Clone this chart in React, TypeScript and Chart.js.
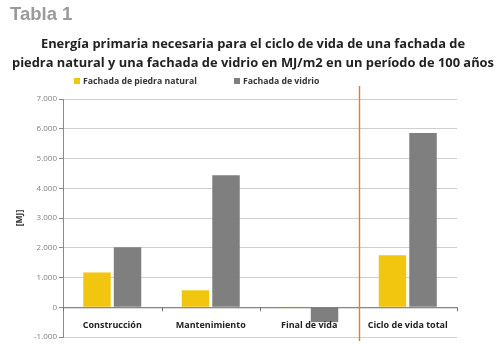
import React, { useEffect, useRef } from "react";
import { Chart, registerables } from "chart.js";

Chart.register(...registerables);

const categories = ["Construcción", "Mantenimiento", "Final de vida", "Ciclo de vida total"];
const seriesNames = ["Fachada de piedra natural", "Fachada de vidrio"];
const piedra = [1170, 570, 20, 1750];
const vidrio = [2020, 4440, -500, 5860];
const yTicks = [-1000, 0, 1000, 2000, 3000, 4000, 5000, 6000, 7000];
const titleLines = [
  "Energía primaria necesaria para el ciclo de vida de una fachada de",
  "piedra natural y una fachada de vidrio en MJ/m2 en un período de 100 años",
];
const tableLabel = "Tabla 1";
const yTitle = "[MJ]";

const YELLOW = "#f2c60f";
const GRAY = "#7f7f7f";
const ORANGE = "#ec7a22";

const fmt = (v: number) => {
  const s = Math.abs(v).toString().replace(/\B(?=(\d{3})+(?!\d))/g, ".");
  return (v < 0 ? "-" : "") + s;
};

const decorPlugin = {
  id: "decor",
  afterDraw(chart: any) {
    const ctx = chart.ctx as CanvasRenderingContext2D;
    const area = chart.chartArea;
    const x = chart.scales.x;
    const y = chart.scales.y;
    ctx.save();
    // Tabla 1
    ctx.fillStyle = "#9a9a9a";
    ctx.font = "bold 18.5px 'Liberation Sans', Arial, sans-serif";
    ctx.textAlign = "left";
    ctx.textBaseline = "middle";
    ctx.fillText(tableLabel, 10, 15);
    // Title
    ctx.fillStyle = "#222";
    ctx.font = "bold 12.9px 'Open Sans', sans-serif";
    ctx.textAlign = "center";
    ctx.fillText(titleLines[0], 253, 44);
    ctx.fillText(titleLines[1], 253, 63);
    // Legend
    ctx.font = "bold 8.7px 'Open Sans', sans-serif";
    ctx.textAlign = "left";
    const legendItems = [
      { c: YELLOW, t: seriesNames[0], x: 74 },
      { c: GRAY, t: seriesNames[1], x: 234 },
    ];
    legendItems.forEach((it) => {
      ctx.fillStyle = it.c;
      ctx.fillRect(it.x, 78, 6, 6);
      ctx.fillStyle = "#333";
      ctx.fillText(it.t, it.x + 9, 81.5);
    });
    // Y title
    ctx.save();
    ctx.translate(20, (area.top + area.bottom) / 2);
    ctx.rotate(-Math.PI / 2);
    ctx.textAlign = "center";
    ctx.fillStyle = "#333";
    ctx.font = "bold 8.5px 'Open Sans', sans-serif";
    ctx.fillText(yTitle, 0, 0);
    ctx.restore();
    // Zero line and tick marks
    const y0 = y.getPixelForValue(0);
    ctx.strokeStyle = "#6f6f6f";
    ctx.lineWidth = 1;
    ctx.beginPath();
    ctx.moveTo(area.left, y0 + 0.5);
    ctx.lineTo(area.right, y0 + 0.5);
    const n = categories.length;
    const w = (area.right - area.left) / n;
    for (let i = 0; i <= n; i++) {
      const px = Math.round(area.left + i * w) + 0.5;
      ctx.moveTo(px, y0);
      ctx.lineTo(px, y0 + 4);
    }
    ctx.stroke();
    // Category labels
    ctx.fillStyle = "#222";
    ctx.font = "bold 9px 'Open Sans', sans-serif";
    ctx.textAlign = "center";
    categories.forEach((c, i) => {
      ctx.fillText(c, x.getPixelForValue(i), y0 + 18);
    });
    // Orange divider
    const px = Math.round(area.left + 3 * w) + 0.5;
    ctx.strokeStyle = ORANGE;
    ctx.lineWidth = 1.4;
    ctx.beginPath();
    ctx.moveTo(px, 86);
    ctx.lineTo(px, area.bottom + 4);
    ctx.stroke();
    ctx.restore();
  },
};

export default function App() {
  const ref = useRef<HTMLCanvasElement | null>(null);
  useEffect(() => {
    document.body.style.margin = "0";
    const chart = new Chart(ref.current as HTMLCanvasElement, {
      type: "bar",
      data: {
        labels: categories,
        datasets: [
          { label: seriesNames[0], data: piedra, backgroundColor: YELLOW, categoryPercentage: 0.62, barPercentage: 0.9 },
          { label: seriesNames[1], data: vidrio, backgroundColor: GRAY, categoryPercentage: 0.62, barPercentage: 0.9 },
        ],
      },
      options: {
        animation: false,
        responsive: false,
        maintainAspectRatio: false,
        layout: { padding: { left: 0, right: 43, top: 99, bottom: 19 } },
        plugins: { legend: { display: false }, tooltip: { enabled: false }, title: { display: false } },
        scales: {
          x: { display: false, offset: true },
          y: {
            min: -1000,
            max: 7000,
            afterFit: (s: any) => { s.width = 63; },
            afterBuildTicks: (s: any) => { s.ticks = yTicks.map((v) => ({ value: v })); },
            border: { display: true, color: "#8a8a8a" },
            grid: { color: "#cfcfcf", tickLength: 4, tickColor: "#8a8a8a" },
            ticks: {
              color: "#808080",
              font: { size: 8, family: "'Open Sans', sans-serif" },
              padding: 2,
              callback: (v: any) => fmt(Number(v)),
            },
          },
        },
      },
      plugins: [decorPlugin],
    });
    return () => chart.destroy();
  }, []);
  return <canvas ref={ref} width={500} height={356} style={{ display: "block" }} />;
}
